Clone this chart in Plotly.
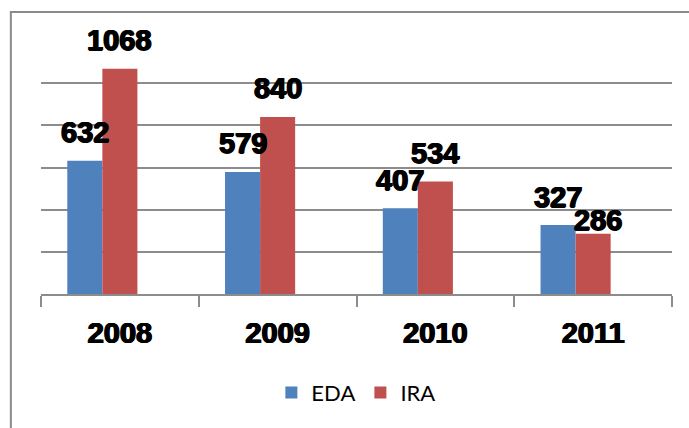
import plotly.graph_objects as go

# Yearly counts for the two programmes
years = ["2008", "2009", "2010", "2011"]
eda = [632, 579, 407, 327]
ira = [1068, 840, 534, 286]

# Label lift above each bar top (px); 286 sits lower and a touch to the right
eda_label_lift = [29, 29, 28, 28]
ira_label_lift = [29, 29, 28, 14]
ira_label_dx = [0, 0, 0, 5]

BLUE = "#4F81BD"
RED = "#C0504D"
GRID = "#8C8C8C"
# Heavy bold digits: bold face thickened with a thin text shadow
HEAVY = "0.8px 0 0 black, -0.8px 0 0 black, 0 0.5px 0 black"
LABEL_FONT = dict(family="Liberation Sans, Arial, sans-serif", size=29, color="black", shadow=HEAVY)

# Each category holds three equal slots; the two series use the first two
slot = 2 / 9
fig = go.Figure()
fig.add_trace(go.Bar(x=years, y=eda, name="EDA", marker=dict(color=BLUE, line=dict(width=0)),
                     width=slot, offset=-1 / 3))
fig.add_trace(go.Bar(x=years, y=ira, name="IRA", marker=dict(color=RED, line=dict(width=0)),
                     width=slot, offset=-1 / 9))

# Value labels, positioned by category index so numeric-looking years stay categories
annotations = []
for i in range(len(years)):
    annotations.append(dict(x=i, y=eda[i], text=f"<b>{eda[i]}</b>", showarrow=False,
                            xref="x", yref="y", xshift=-35, yshift=eda_label_lift[i],
                            yanchor="middle", font=LABEL_FONT))
    annotations.append(dict(x=i, y=ira[i], text=f"<b>{ira[i]}</b>", showarrow=False,
                            xref="x", yref="y", xshift=ira_label_dx[i], yshift=ira_label_lift[i],
                            yanchor="middle", font=LABEL_FONT))

fig.update_layout(
    width=689, height=428,
    margin=dict(l=41, r=17, t=41, b=134, pad=0),
    paper_bgcolor="white", plot_bgcolor="white",
    showlegend=True,
    legend=dict(orientation="h", x=0.499, xanchor="center", y=-0.39, yanchor="middle",
                font=dict(family="Lato, Carlito, sans-serif", size=22, color="black"),
                itemwidth=30, tracegroupgap=0),
    annotations=annotations,
    bargap=1 / 3,
    shapes=[dict(type="rect", xref="paper", yref="paper", x0=-0.0478, x1=1.2, y0=-0.8, y1=1.1148,
                 line=dict(color="#8A8A8A", width=2), fillcolor="rgba(0,0,0,0)", layer="below")],
)

fig.update_xaxes(
    type="category", range=[-0.5, len(years) - 0.5], autorange=False,
    showgrid=False, showline=True, linecolor=GRID, linewidth=1.5,
    ticks="outside", tickson="boundaries", ticklen=11, tickcolor=GRID, tickwidth=1.5,
    tickfont=dict(family="Liberation Sans, Arial, sans-serif", size=29, color="black", shadow=HEAVY),
    tickprefix="<b>", ticksuffix="</b>", ticklabelstandoff=12, tickangle=0,
)
fig.update_yaxes(
    range=[0, 1200], autorange=False, dtick=200, showgrid=True, gridcolor=GRID, gridwidth=1.5,
    showticklabels=False, zeroline=False, showline=False, ticks="",
)

fig.write_html("out.html")
